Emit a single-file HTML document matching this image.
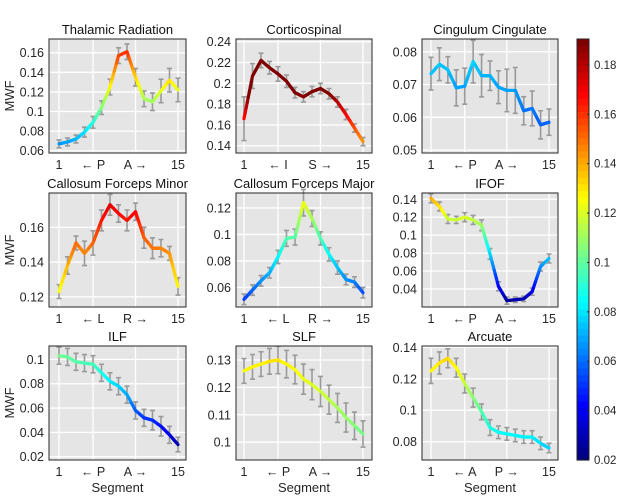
<!DOCTYPE html>
<html><head><meta charset="utf-8">
<style>
html,body{margin:0;padding:0;background:#fff;}
svg{display:block;font-family:"Liberation Sans","DejaVu Sans",sans-serif;}
</style></head>
<body>
<svg id="fig" width="620" height="500" viewBox="0 0 620 500"></svg>
<script>
const segments = [1,2,3,4,5,6,7,8,9,10,11,12,13,14,15];
const titles = ["Thalamic Radiation","Corticospinal","Cingulum Cingulate","Callosum Forceps Minor","Callosum Forceps Major","IFOF","ILF","SLF","Arcuate"];
const dirLabels = [["← P","A →"],["← I","S →"],["← P","A →"],["← L","R →"],["← L","R →"],["← P","A →"],["← P","A →"],["← P","A →"],["← A","P →"]];
const valsTR = [0.067,0.069,0.072,0.079,0.089,0.104,0.125,0.157,0.161,0.135,0.113,0.110,0.121,0.132,0.122];
const errTR = [0.004,0.004,0.004,0.005,0.006,0.007,0.008,0.008,0.008,0.009,0.008,0.009,0.012,0.012,0.012];
const valsCST = [0.166,0.207,0.222,0.215,0.209,0.202,0.191,0.187,0.192,0.195,0.190,0.182,0.170,0.157,0.144];
const errCST = [0.021,0.012,0.007,0.006,0.007,0.006,0.005,0.005,0.005,0.005,0.005,0.005,0.005,0.004,0.004];
const valsCing = [0.0733,0.0762,0.0745,0.0690,0.0695,0.0770,0.0727,0.0727,0.0692,0.0682,0.0682,0.0620,0.0627,0.0577,0.0585];
const errCing = [0.005,0.005,0.004,0.0055,0.0055,0.0065,0.0065,0.0045,0.005,0.0065,0.007,0.0043,0.0053,0.0043,0.004];
const valsFMin = [0.123,0.138,0.151,0.145,0.151,0.164,0.173,0.168,0.164,0.169,0.154,0.148,0.148,0.145,0.126];
const errFMin = [0.004,0.005,0.004,0.007,0.007,0.006,0.006,0.005,0.006,0.005,0.006,0.006,0.005,0.004,0.005];
const valsFMaj = [0.051,0.058,0.065,0.071,0.083,0.097,0.098,0.124,0.112,0.097,0.085,0.075,0.066,0.064,0.056];
const errFMaj = [0.004,0.004,0.004,0.004,0.005,0.006,0.006,0.010,0.006,0.005,0.005,0.005,0.004,0.004,0.004];
const valsIFOF = [0.141,0.132,0.118,0.117,0.120,0.117,0.111,0.079,0.043,0.027,0.028,0.029,0.037,0.065,0.074];
const errIFOF = [0.005,0.005,0.005,0.004,0.005,0.005,0.006,0.006,0.005,0.004,0.003,0.003,0.004,0.005,0.005];
const valsILF = [0.103,0.102,0.098,0.097,0.096,0.089,0.082,0.078,0.071,0.058,0.052,0.050,0.045,0.038,0.030];
const errILF = [0.007,0.007,0.007,0.007,0.007,0.007,0.007,0.007,0.007,0.007,0.007,0.008,0.008,0.007,0.006];
const valsSLF = [0.126,0.1275,0.1285,0.1295,0.130,0.1285,0.1265,0.123,0.121,0.1185,0.1155,0.1125,0.109,0.106,0.103];
const errSLF = [0.0045,0.0045,0.0045,0.0047,0.005,0.005,0.0052,0.0055,0.0055,0.0055,0.0053,0.0053,0.0053,0.005,0.0048];
const valsArc = [0.125,0.130,0.133,0.127,0.117,0.108,0.099,0.089,0.086,0.085,0.084,0.083,0.083,0.079,0.076];
const errArc = [0.008,0.007,0.006,0.006,0.006,0.006,0.005,0.005,0.004,0.004,0.004,0.004,0.004,0.004,0.003];
const yTicks = [[0.06,0.08,0.1,0.12,0.14,0.16],[0.14,0.16,0.18,0.2,0.22,0.24],[0.05,0.06,0.07,0.08],[0.12,0.14,0.16],[0.06,0.08,0.1,0.12],[0.04,0.06,0.08,0.1,0.12,0.14],[0.02,0.04,0.06,0.08,0.1],[0.1,0.11,0.12,0.13],[0.08,0.1,0.12,0.14]];
const yLims = [[0.0577,0.174],[0.133,0.2426],[0.0491,0.0839],[0.1141,0.1798],[0.0452,0.1313],[0.0199,0.147],[0.0173,0.111],[0.0935,0.1351],[0.0684,0.1408]];
const cbTicks = [0.02,0.04,0.06,0.08,0.1,0.12,0.14,0.16,0.18];
const cbRange = [0.02,0.1905];

const allVals = [valsTR,valsCST,valsCing,valsFMin,valsFMaj,valsIFOF,valsILF,valsSLF,valsArc];
const allErr = [errTR,errCST,errCing,errFMin,errFMaj,errIFOF,errILF,errSLF,errArc];
const NS="http://www.w3.org/2000/svg";
const svg=document.getElementById('fig');
function mk(tag,attrs,parent){const e=document.createElementNS(NS,tag);for(const k in attrs)e.setAttribute(k,attrs[k]);(parent||svg).appendChild(e);return e;}
function jet(t){t=Math.max(0,Math.min(1,t));
 const r=Math.max(0,Math.min(1,Math.min(4*t-1.5,-4*t+4.5)));
 const g=Math.max(0,Math.min(1,Math.min(4*t-0.5,-4*t+3.5)));
 const b=Math.max(0,Math.min(1,Math.min(4*t+0.5,-4*t+2.5)));
 return `rgb(${Math.round(r*255)},${Math.round(g*255)},${Math.round(b*255)})`;}
function cmap(v){const t=(v-cbRange[0])/(cbRange[1]-cbRange[0]);return jet(Math.floor(t*64)/63);}
function fmt(v){let s=(+v.toFixed(3)).toString();return s;}

const colX=[[49,186,59,178],[236,372,244,363],[422,558,431,549]];
const rowY=[[39,153],[193,307],[346,460]];

for(let p=0;p<9;p++){
 const c=p%3,r=Math.floor(p/3);
 const [L,R,x1,x15]=colX[c];const [T,B]=rowY[r];
 const [y0,y1]=yLims[p];
 const xs=i=>x1+(i-1)*(x15-x1)/14;
 const ys=v=>B-(v-y0)/(y1-y0)*(B-T);
 const g=mk('g',{});
 
 
 const bg=mk('rect',{x:L,y:T,width:R-L,height:B-T,fill:'#e5e5e5'},g);
 
 
 // grid
 [1,5,10,15].forEach(s=>mk('line',{x1:xs(s),x2:xs(s),y1:T,y2:B,stroke:'#fff','stroke-width':1.3},g));
 yTicks[p].forEach(t=>{const y=ys(t);mk('line',{x1:L,x2:R,y1:y,y2:y,stroke:'#fff','stroke-width':1.3},g);
   const tl=mk('text',{x:L-5,y:y+4.5,'text-anchor':'end','font-size':12.5,fill:'#262626'},g);tl.textContent=fmt(t);
   
   });
 // error bars
 const vals=allVals[p],err=allErr[p];
 segments.forEach((s,i)=>{const x=xs(s),ya=ys(vals[i]-err[i]),yb=ys(vals[i]+err[i]);
  const eb=mk('path',{d:`M${x},${ya}V${yb}M${x-2.5},${ya}H${x+2.5}M${x-2.5},${yb}H${x+2.5}`,stroke:'#9a9a9a','stroke-width':1.6,fill:'none'},g);
  
  });
 // colored line
 const lg=mk('g',{},g);
 
 
 for(let i=0;i<14;i++){const n=8;for(let k=0;k<n;k++){
   const a=k/n,b=(k+1)/n;const va=vals[i]+(vals[i+1]-vals[i])*a,vb=vals[i]+(vals[i+1]-vals[i])*b;
   const xa=xs(segments[i])+(xs(segments[i+1])-xs(segments[i]))*a,xb=xs(segments[i])+(xs(segments[i+1])-xs(segments[i]))*b;
   mk('line',{x1:xa,y1:ys(va),x2:xb,y2:ys(vb),stroke:cmap((va+vb)/2),'stroke-width':3.2,'stroke-linecap':'round'},lg);}}
 mk('rect',{x:L,y:T,width:R-L,height:B-T,fill:'none',stroke:'#262626','stroke-width':1},g);
 // x labels
 const xl=[["1",xs(1)],[dirLabels[p][0],xs(5)],[dirLabels[p][1],xs(10)],["15",xs(15)]];
 xl.forEach(([t,x])=>{const e=mk('text',{x:x,y:B+16,'text-anchor':'middle','font-size':12.5,fill:'#262626'},g);e.textContent=t;
   
   });
 const tt=mk('text',{x:(L+R)/2,y:T-5,'text-anchor':'middle','font-size':13,fill:'#111'},g);tt.textContent=titles[p];
 
 
 if(c===0){const yl=mk('text',{x:0,y:0,transform:`translate(14,${(T+B)/2}) rotate(-90)`,'text-anchor':'middle','font-size':13,fill:'#262626'},g);yl.textContent='MWF';
   
   }
 if(r===2){const xt=mk('text',{x:(L+R)/2,y:492,'text-anchor':'middle','font-size':13,fill:'#262626'},g);xt.textContent='Segment';
   
   }
}
// colorbar
const cb=mk('g',{});


const cT=39,cB=460,cL=577,cR=589;
for(let i=0;i<64;i++){const h=(cB-cT)/64;mk('rect',{x:cL,y:cB-(i+1)*h,width:cR-cL,height:h+0.6,fill:jet(i/63)},cb);}
mk('rect',{x:cL,y:cT,width:cR-cL,height:cB-cT,fill:'none',stroke:'#262626','stroke-width':1},cb);
cbTicks.forEach(t=>{const y=cB-(t-cbRange[0])/(cbRange[1]-cbRange[0])*(cB-cT);
 mk('line',{x1:cR-2,x2:cR,y1:y,y2:y,stroke:'#262626'},cb);
 const e=mk('text',{x:cR+5,y:y+4,'font-size':11.5,fill:'#262626'},cb);e.textContent=fmt(t);
 
 });
</script>
</body></html>
